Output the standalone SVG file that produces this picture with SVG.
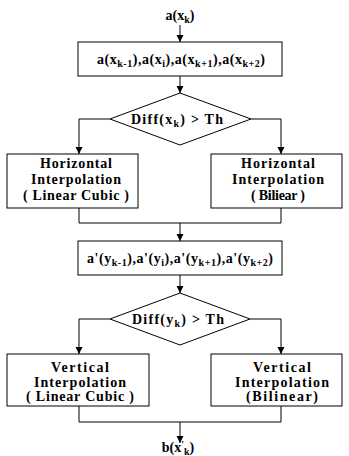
<svg xmlns="http://www.w3.org/2000/svg" width="349" height="456" viewBox="0 0 349 456">
<style>
text{font-family:"Liberation Serif","Times New Roman",serif;font-weight:bold;font-size:14px;fill:#000;text-anchor:middle}
.s{font-size:10px}
.box{fill:#fff;stroke:#000;stroke-width:1}
.ln{fill:none;stroke:#000;stroke-width:1}
</style>
<defs>
<marker id="ah" markerUnits="userSpaceOnUse" markerWidth="8" markerHeight="8" refX="7" refY="3.5" orient="auto">
<path d="M0,0 L7,3.5 L0,7 z" fill="#000"/>
</marker>
</defs>
<g id="connectors">
<line class="ln" x1="180" y1="25" x2="180" y2="42" marker-end="url(#ah)"/>
<line class="ln" x1="180" y1="76" x2="180" y2="93" marker-end="url(#ah)"/>
<polyline class="ln" points="110,119 79,119 79,154" marker-end="url(#ah)"/>
<polyline class="ln" points="251,119 281,119 281,154" marker-end="url(#ah)"/>
<polyline class="ln" points="79,208 79,223 281,223 281,208"/>
<line class="ln" x1="180" y1="223" x2="180" y2="241" marker-end="url(#ah)"/>
<line class="ln" x1="180" y1="275" x2="180" y2="293" marker-end="url(#ah)"/>
<polyline class="ln" points="110,319 79,319 79,354" marker-end="url(#ah)"/>
<polyline class="ln" points="250,319 281,319 281,354" marker-end="url(#ah)"/>
<polyline class="ln" points="79,406 79,422 281,422 281,406"/>
<line class="ln" x1="180" y1="422" x2="180" y2="443" marker-end="url(#ah)"/>
</g>
<g id="input">
<text x="180" y="20">a(x<tspan class="s" dy="3">k</tspan><tspan dy="-3">)</tspan></text>
</g>
<g id="samples-x">
<rect class="box" x="78" y="42" width="204" height="34"/>
<text x="181" y="64" textLength="168" lengthAdjust="spacing">a(x<tspan class="s" dy="3">k-1</tspan><tspan dy="-3">),a(x</tspan><tspan class="s" dy="3">i</tspan><tspan dy="-3">),a(x</tspan><tspan class="s" dy="3">k+1</tspan><tspan dy="-3">),a(x</tspan><tspan class="s" dy="3">k+2</tspan><tspan dy="-3">)</tspan></text>
</g>
<g id="decision-x">
<polygon class="box" points="180,93 251,119 180,145 110,119"/>
<text x="177" y="124" textLength="92" lengthAdjust="spacing">Diff(x<tspan class="s" dy="3">k</tspan><tspan dy="-3">) &gt; Th</tspan></text>
</g>
<g id="h-cubic">
<rect class="box" x="7" y="154" width="131" height="54"/>
<text x="76" y="168" textLength="72" lengthAdjust="spacing">Horizontal</text>
<text x="76" y="184" textLength="90" lengthAdjust="spacing">Interpolation</text>
<text x="76" y="200" textLength="106" lengthAdjust="spacing">( Linear Cubic )</text>
</g>
<g id="h-bilinear">
<rect class="box" x="211" y="154" width="131" height="54"/>
<text x="278" y="168" textLength="74" lengthAdjust="spacing">Horizontal</text>
<text x="278" y="184" textLength="92" lengthAdjust="spacing">Interpolation</text>
<text x="278" y="200" textLength="54" lengthAdjust="spacing">( Biliear )</text>
</g>
<g id="samples-y">
<rect class="box" x="78" y="241" width="204" height="34"/>
<text x="180" y="263" textLength="186" lengthAdjust="spacing">a'(y<tspan class="s" dy="3">k-1</tspan><tspan dy="-3">),a'(y</tspan><tspan class="s" dy="3">i</tspan><tspan dy="-3">),a'(y</tspan><tspan class="s" dy="3">k+1</tspan><tspan dy="-3">),a'(y</tspan><tspan class="s" dy="3">k+2</tspan><tspan dy="-3">)</tspan></text>
</g>
<g id="decision-y">
<polygon class="box" points="180,293 250,319 180,345 110,319"/>
<text x="178" y="324" textLength="92" lengthAdjust="spacing">Diff(y<tspan class="s" dy="3">k</tspan><tspan dy="-3">) &gt; Th</tspan></text>
</g>
<g id="v-cubic">
<rect class="box" x="7" y="354" width="142" height="52"/>
<text x="80" y="372" textLength="58" lengthAdjust="spacing">Vertical</text>
<text x="80" y="387" textLength="92" lengthAdjust="spacing">Interpolation</text>
<text x="80" y="401" textLength="108" lengthAdjust="spacing">( Linear Cubic )</text>
</g>
<g id="v-bilinear">
<rect class="box" x="211" y="354" width="131" height="52"/>
<text x="282" y="372" textLength="58" lengthAdjust="spacing">Vertical</text>
<text x="282" y="387" textLength="94" lengthAdjust="spacing">Interpolation</text>
<text x="282" y="401" textLength="72" lengthAdjust="spacing">(Bilinear)</text>
</g>
<g id="output">
<text x="178" y="452">b(x<tspan class="s" dy="-4">'</tspan><tspan class="s" dy="7">k</tspan><tspan dy="-3">)</tspan></text>
</g>
</svg>
